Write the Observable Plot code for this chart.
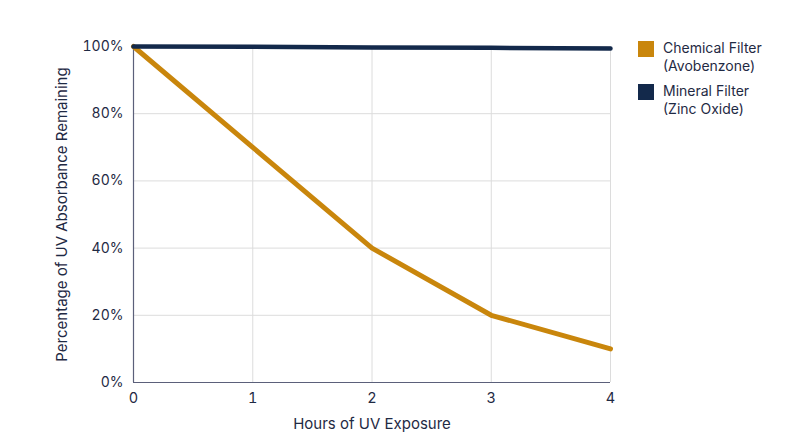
<!DOCTYPE html>
<html>
<head>
<meta charset="utf-8">
<script src="https://cdn.jsdelivr.net/npm/d3@7"></script>
<script src="https://cdn.jsdelivr.net/npm/@observablehq/plot@0.6"></script>
<style>
  body { margin: 0; background: #fff; font-family: Inter, "Noto Sans", sans-serif; }
  #wrap { position: relative; width: 800px; height: 447px; }
  #legend { position: absolute; left: 638px; top: 39px; color: #1f2a44; font-size: 14px; line-height: 18px; }
  .item { display: flex; align-items: flex-start; margin-bottom: 7px; }
  .sw { width: 16px; height: 16px; margin-right: 9px; margin-top: 2px; flex: none; }
</style>
</head>
<body>
<div id="wrap"></div>
<script>
const hours = [0, 1, 2, 3, 4];
const chemical = [100, 70, 40, 20, 10];
const mineral = [100, 99.9, 99.7, 99.6, 99.4];
const seriesNames = ["Chemical Filter (Avobenzone)", "Mineral Filter (Zinc Oxide)"];
const legendLines = [["Chemical Filter", "(Avobenzone)"], ["Mineral Filter", "(Zinc Oxide)"]];
const colors = ["#c9860c", "#13294b"];
const yTicks = [0, 20, 40, 60, 80, 100];

const data = [];
hours.forEach((h, i) => data.push({hour: h, value: chemical[i], series: seriesNames[0]}));
hours.forEach((h, i) => data.push({hour: h, value: mineral[i], series: seriesNames[1]}));

const textColor = "#1f2a44";
const chart = Plot.plot({
  width: 625,
  height: 447,
  marginLeft: 133,
  marginRight: 15,
  marginTop: 46,
  marginBottom: 65,
  style: {fontFamily: "Inter, sans-serif", fontSize: "14px", color: textColor, background: "transparent"},
  x: {domain: [0, 4], ticks: hours, label: null},
  y: {domain: [0, 100], ticks: yTicks, label: null},
  color: {domain: seriesNames, range: colors},
  marks: [
    Plot.gridX(hours, {stroke: "#dcdcdc", strokeOpacity: 1}),
    Plot.gridY(yTicks, {stroke: "#dcdcdc", strokeOpacity: 1}),
    Plot.axisX(hours, {tickSize: 0, tickPadding: 10, fontSize: 14.5, fill: textColor, tickFormat: d => String(d), label: null}),
    Plot.axisY(yTicks, {tickSize: 0, tickPadding: 10, fontSize: 14, fill: textColor, tickFormat: d => d + "%", label: null}),
    Plot.text(["Hours of UV Exposure"], {frameAnchor: "bottom", dy: 46, fontSize: 15, fill: textColor}),
    Plot.text(["Percentage of UV Absorbance Remaining"], {frameAnchor: "left", textAnchor: "middle", dx: -71, rotate: -90, fontSize: 15, fill: textColor}),
    Plot.ruleX([0], {stroke: "#5b607a", strokeWidth: 1.2}),
    Plot.ruleY([0], {stroke: "#5b607a", strokeWidth: 1.2}),
    Plot.line(data.filter(d => d.series === seriesNames[0]), {x: "hour", y: "value", stroke: "series", strokeWidth: 5}),
    Plot.line(data.filter(d => d.series === seriesNames[1]), {x: "hour", y: "value", stroke: "series", strokeWidth: 4.5})
  ]
});
const wrap = document.getElementById("wrap");
wrap.appendChild(chart);

const legend = document.createElement("div");
legend.id = "legend";
legendLines.forEach((lines, i) => {
  const item = document.createElement("div");
  item.className = "item";
  const sw = document.createElement("div");
  sw.className = "sw";
  sw.style.background = colors[i];
  const t = document.createElement("div");
  t.innerHTML = lines.join("<br>");
  item.appendChild(sw);
  item.appendChild(t);
  legend.appendChild(item);
});
wrap.appendChild(legend);
</script>
</body>
</html>
